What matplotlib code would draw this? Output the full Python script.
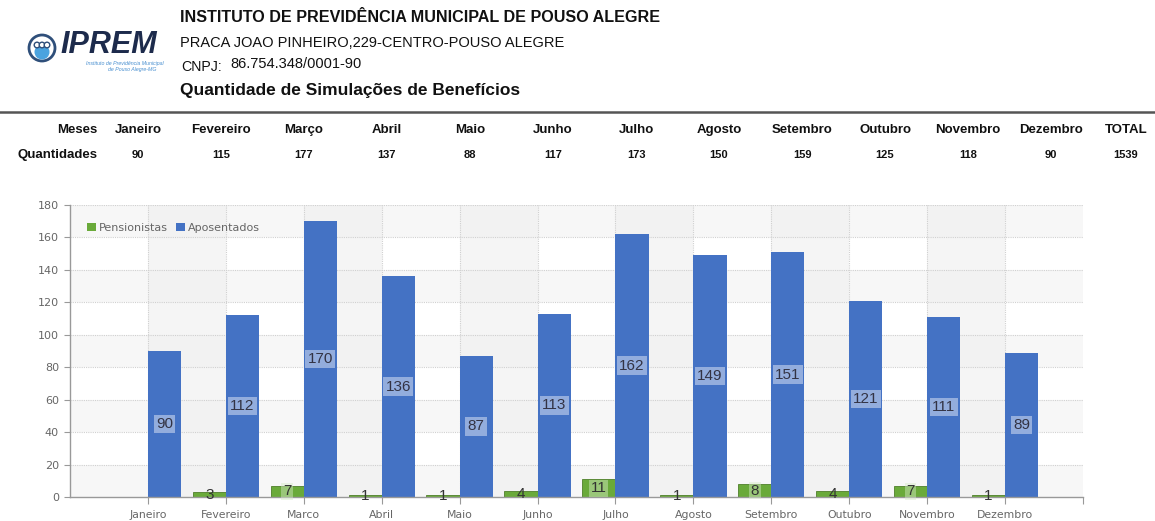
import matplotlib
matplotlib.use("Agg")
import matplotlib.pyplot as plt
from matplotlib.patches import Circle, Rectangle
from matplotlib.lines import Line2D

# ---------------- data ----------------
months_table = ["Janeiro", "Fevereiro", "Março", "Abril", "Maio", "Junho", "Julho",
                "Agosto", "Setembro", "Outubro", "Novembro", "Dezembro"]
quantidades = [90, 115, 177, 137, 88, 117, 173, 150, 159, 125, 118, 90]
total = 1539
months_axis = ["Janeiro", "Fevereiro", "Marco", "Abril", "Maio", "Junho", "Julho",
               "Agosto", "Setembro", "Outubro", "Novembro", "Dezembro"]
pensionistas = [0, 3, 7, 1, 1, 4, 11, 1, 8, 4, 7, 1]
aposentados = [90, 112, 170, 136, 87, 113, 162, 149, 151, 121, 111, 89]
y_ticks = [0, 20, 40, 60, 80, 100, 120, 140, 160, 180]

W, H = 1155, 521
fig = plt.figure(figsize=(W / 100, H / 100), dpi=100)
fig.patch.set_facecolor("white")

def fx(px):
    return px / W

def fy(py):
    return 1 - py / H

SANS = ["Liberation Sans", "DejaVu Sans"]

# ---------------- header ----------------
# logo
logo_ax = fig.add_axes([fx(20), fy(80), fx(150), 60 / H])
logo_ax.set_xlim(0, 150)
logo_ax.set_ylim(0, 60)
logo_ax.axis("off")
logo_ax.add_patch(Circle((22, 32), 13, facecolor="white", edgecolor="#2f4f7a", lw=2))
logo_ax.add_patch(Circle((22, 28), 7.5, facecolor="#4aa3df", edgecolor="none"))
for dx in (-5, 0, 5):
    logo_ax.add_patch(Circle((22 + dx, 35), 2.8, facecolor="white", edgecolor="#2f4f7a", lw=1))
logo_ax.text(40, 35, "IPREM", fontsize=22, fontweight="bold", fontstyle="italic",
             color="#1d2b4c", family=SANS, va="center", ha="left")
logo_ax.text(105, 17, "Instituto de Previdência Municipal", fontsize=3.8, color="#4a90d0",
             ha="center", va="center", fontstyle="italic", family=SANS)
logo_ax.text(112, 11, "de Pouso Alegre-MG", fontsize=3.8, color="#4a90d0",
             ha="center", va="center", fontstyle="italic", family=SANS)

fig.text(fx(180), fy(18), "INSTITUTO DE PREVIDÊNCIA MUNICIPAL DE POUSO ALEGRE",
         fontsize=11.6, fontweight="bold", color="#111111", family=SANS, va="center", ha="left")
fig.text(fx(180), fy(43), "PRACA JOAO PINHEIRO,229-CENTRO-POUSO ALEGRE",
         fontsize=10.5, color="#111111", family=SANS, va="center", ha="left")
fig.text(fx(181), fy(67), "CNPJ:", fontsize=10.2, color="#111111", family=SANS,
         va="center", ha="left")
fig.text(fx(230), fy(64), "86.754.348/0001-90", fontsize=10.5, color="#111111",
         family=SANS, va="center", ha="left")
fig.text(fx(180), fy(91), "Quantidade de Simulações de Benefícios",
         fontsize=12.5, fontweight="bold", color="#111111", family=SANS, va="center", ha="left")

fig.add_artist(Line2D([0, 1], [fy(112), fy(112)], transform=fig.transFigure,
                      color="#555555", lw=1.8))

# ---------------- table ----------------
col_x = [138, 221, 304, 387, 470, 553, 636, 719, 802, 885, 968, 1051]
fig.text(fx(97), fy(130), "Meses", fontsize=9.5, fontweight="bold", family=SANS,
         ha="right", va="center", color="#111111")
fig.text(fx(97), fy(155), "Quantidades", fontsize=9.5, fontweight="bold", family=SANS,
         ha="right", va="center", color="#111111")
for cx, m, q in zip(col_x, months_table, quantidades):
    fig.text(fx(cx), fy(130), m, fontsize=9.5, fontweight="bold", family=SANS,
             ha="center", va="center", color="#111111")
    fig.text(fx(cx), fy(155), str(q), fontsize=8, fontweight="bold", family=SANS,
             ha="center", va="center", color="#111111")
fig.text(fx(1126), fy(130), "TOTAL", fontsize=9.5, fontweight="bold", family=SANS,
         ha="center", va="center", color="#111111")
fig.text(fx(1126), fy(155), str(total), fontsize=8, fontweight="bold", family=SANS,
         ha="center", va="center", color="#111111")

# ---------------- chart ----------------
ax_left, ax_right, ax_top, ax_bottom = 70, 1083, 205, 497
ax = fig.add_axes([fx(ax_left), fy(ax_bottom), fx(ax_right - ax_left), (ax_bottom - ax_top) / H])
n = len(months_axis)
ax.set_xlim(0, n + 1)
ax.set_ylim(0, 180)

# alternating bands
for k in range(0, len(y_ticks) - 1, 2):
    ax.axhspan(y_ticks[k], y_ticks[k + 1], color="#f3f3f3", alpha=0.6, lw=0, zorder=0)
for k in range(1, n, 2):
    ax.axvspan(k, k + 1, color="#eeeeee", alpha=0.55, lw=0, zorder=0)

# grid
for yv in y_ticks[1:]:
    ax.axhline(yv, color="#d0d0d0", lw=0.8, ls=(0, (1, 1)), zorder=1)
for k in range(1, n + 1):
    ax.axvline(k, color="#d0d0d0", lw=0.8, ls=(0, (1, 1)), zorder=1)

bw = 0.425
pos = [i + 1 for i in range(n)]
green = "#6aaa3a"
blue = "#4472c4"
gb = ax.bar([p - bw / 2 for p in pos], pensionistas, width=bw, color=green, zorder=2,
            label="Pensionistas")
bb = ax.bar([p + bw / 2 for p in pos], aposentados, width=bw, color=blue, zorder=2,
            label="Aposentados")
for r, v in zip(gb, pensionistas):
    if v > 0:
        r.set_edgecolor("#4f7f2a")
        r.set_linewidth(0.6)

for p, v in zip(pos, aposentados):
    ax.text(p + bw / 2, v / 2, str(v), ha="center", va="center", fontsize=11,
            color="#333344", family=SANS, zorder=4,
            bbox=dict(boxstyle="square,pad=0.15", facecolor="#c9d6ef", alpha=0.6, lw=0))
for p, v in zip(pos, pensionistas):
    if v > 0:
        ax.text(p - bw / 2, v / 2, str(v), ha="center", va="center", fontsize=11,
                color="#333333", family=SANS, zorder=4,
                bbox=dict(boxstyle="square,pad=0.1", facecolor="#d6ebc8",
                          alpha=0.45 if v > 5 else 0.0, lw=0))

# axes styling
for s in ("top", "right"):
    ax.spines[s].set_visible(False)
ax.spines["left"].set_color("#999999")
ax.spines["bottom"].set_color("#999999")
ax.spines["left"].set_linewidth(1)
ax.spines["bottom"].set_linewidth(1)
ax.set_yticks(y_ticks)
ax.set_yticklabels([str(v) for v in y_ticks])
ax.set_xticks(pos + [n + 1])
ax.set_xticklabels(months_axis + [""])
ax.tick_params(axis="y", colors="#999999", labelcolor="#666666", labelsize=8, length=4,
               pad=4)
ax.tick_params(axis="x", colors="#999999", labelcolor="#666666", labelsize=7.8, length=5,
               pad=4)
ax.set_facecolor("white")

leg = ax.legend(loc="upper left", ncol=2, frameon=False, fontsize=8, handlelength=0.8,
                handleheight=0.8, handletextpad=0.25, columnspacing=0.8,
                bbox_to_anchor=(0.009, 0.965), borderaxespad=0.3)
for t in leg.get_texts():
    t.set_color("#666666")

fig.savefig("out.png", dpi=100, facecolor="white")
